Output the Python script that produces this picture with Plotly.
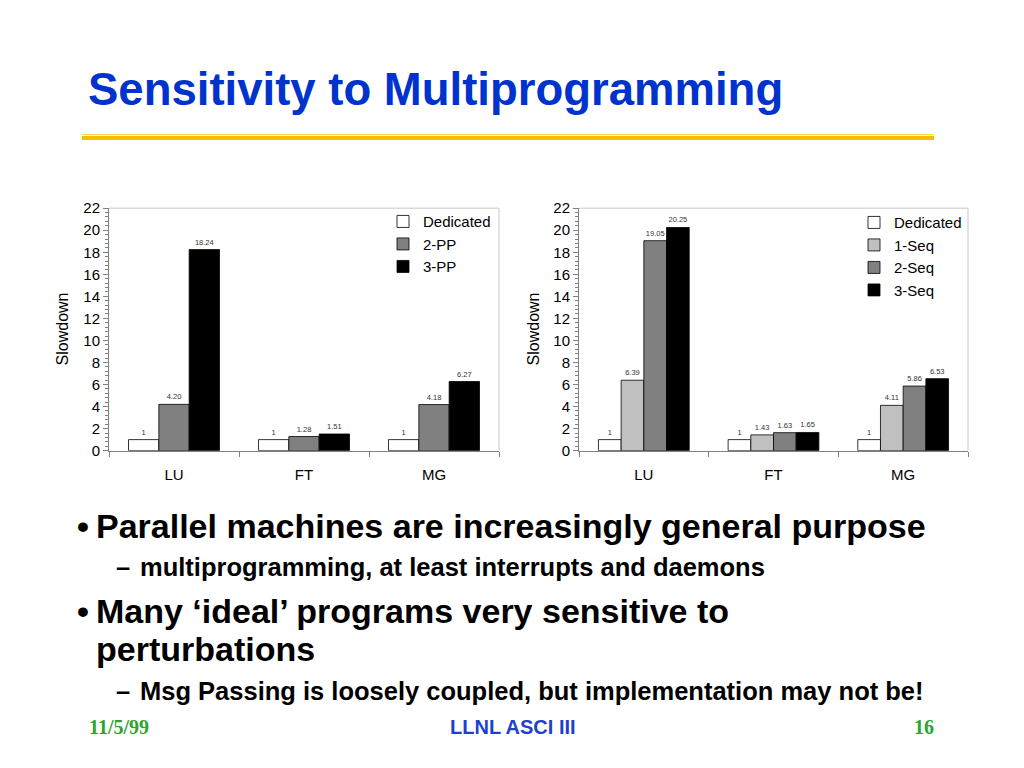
import plotly.graph_objects as go

W, H = 1024, 768

categories = ["LU", "FT", "MG"]

left_series = ["Dedicated", "2-PP", "3-PP"]
left_values = [
    [1, 1, 1],
    [4.20, 1.28, 4.18],
    [18.24, 1.51, 6.27],
]
left_labels = [
    ["1", "1", "1"],
    ["4.20", "1.28", "4.18"],
    ["18.24", "1.51", "6.27"],
]
left_colors = ["#FFFFFF", "#808080", "#000000"]

right_series = ["Dedicated", "1-Seq", "2-Seq", "3-Seq"]
right_values = [
    [1, 1, 1],
    [6.39, 1.43, 4.11],
    [19.05, 1.63, 5.86],
    [20.25, 1.65, 6.53],
]
right_labels = [
    ["1", "1", "1"],
    ["6.39", "1.43", "4.11"],
    ["19.05", "1.63", "5.86"],
    ["20.25", "1.65", "6.53"],
]
right_colors = ["#FFFFFF", "#C0C0C0", "#808080", "#000000"]

y_ticks = list(range(0, 23, 2))
y_range = [0, 22]

title_text = "Sensitivity to Multiprogramming"
bullets = [
    ("•", "Parallel machines are increasingly general purpose", 1),
    ("–", "multiprogramming, at least interrupts and daemons", 2),
    ("•", "Many ‘ideal’ programs very sensitive to", 1),
    ("", "perturbations", 1),
    ("–", "Msg Passing is loosely coupled, but implementation may not be!", 2),
]
footer_left = "11/5/99"
footer_center = "LLNL ASCI III"
footer_right = "16"

SANS = "Liberation Sans, Arial, Helvetica, sans-serif"
SERIF = "Liberation Serif, Times New Roman, serif"


def px(x):
    return x / W


def py(y):
    # small vertical correction measured from the rendered page
    s = (y - 10.2) / 0.976
    return 1 - s / H


fig = go.Figure()

for name, vals, labs, col in zip(left_series, left_values, left_labels, left_colors):
    fig.add_trace(go.Bar(
        x=categories, y=vals, name=name, text=labs,
        textposition="outside", cliponaxis=False,
        textfont=dict(size=7.5, color="#333333", family=SANS),
        marker=dict(color=col, line=dict(color="#000000", width=0.8)),
        xaxis="x", yaxis="y", legend="legend", legendgroup="L" + name,
    ))

for name, vals, labs, col in zip(right_series, right_values, right_labels, right_colors):
    fig.add_trace(go.Bar(
        x=categories, y=vals, name=name, text=labs,
        textposition="outside", cliponaxis=False,
        textfont=dict(size=7.5, color="#333333", family=SANS),
        marker=dict(color=col, line=dict(color="#000000", width=0.8)),
        xaxis="x2", yaxis="y2", legend="legend2", legendgroup="R" + name,
    ))

ydom = [py(451), py(209)]
xaxis_common = dict(
    type="category", showline=True, linecolor="#808080", linewidth=1,
    ticks="outside", tickson="boundaries", ticklen=5, tickcolor="#808080",
    tickfont=dict(family=SANS, size=15, color="#000000"),
    ticklabelstandoff=10, showgrid=False, zeroline=False,
)
yaxis_common = dict(
    range=y_range, tickvals=y_ticks, showline=True, linecolor="#808080",
    linewidth=1, ticks="outside", ticklen=5, tickcolor="#808080",
    tickfont=dict(family=SANS, size=15, color="#000000"),
    showgrid=False, zeroline=False,
    minor=dict(dtick=0.4, ticks="outside", ticklen=3, tickcolor="#808080", showgrid=False),
)

fig.update_layout(
    width=W, height=H, margin=dict(l=0, r=0, t=0, b=0),
    paper_bgcolor="#FFFFFF", plot_bgcolor="#FFFFFF",
    barmode="group", bargap=0.3, bargroupgap=0,
    font=dict(family=SANS, color="#000000"),
    xaxis=dict(domain=[px(109), px(499)], anchor="y", **xaxis_common),
    yaxis=dict(domain=ydom, anchor="x", **yaxis_common),
    xaxis2=dict(domain=[px(579), px(968)], anchor="y2", **xaxis_common),
    yaxis2=dict(domain=ydom, anchor="x2", **yaxis_common),
    legend=dict(x=px(383), y=py(206), xanchor="left", yanchor="top",
                bgcolor="rgba(0,0,0,0)", font=dict(family=SANS, size=15),
                traceorder="grouped", tracegroupgap=0, itemwidth=30),
    legend2=dict(x=px(854), y=py(207), xanchor="left", yanchor="top",
                 bgcolor="rgba(0,0,0,0)", font=dict(family=SANS, size=15),
                 traceorder="grouped", tracegroupgap=0, itemwidth=30),
)

shapes = []
for xr, yr in (("x domain", "y domain"), ("x2 domain", "y2 domain")):
    shapes.append(dict(type="line", xref=xr, yref=yr, x0=0, x1=1, y0=1, y1=1,
                       line=dict(color="#C8C8C8", width=1)))
    shapes.append(dict(type="line", xref=xr, yref=yr, x0=1, x1=1, y0=0, y1=1,
                       line=dict(color="#C8C8C8", width=1)))
# gold rule under the title
shapes.append(dict(type="line", xref="paper", yref="paper", x0=px(82), x1=px(934),
                   y0=py(135.5), y1=py(135.5), line=dict(color="#F7D24A", width=1)))
shapes.append(dict(type="rect", xref="paper", yref="paper", x0=px(82), x1=px(934),
                   y0=py(141), y1=py(137), fillcolor="#F5BF00", line=dict(width=0)))
fig.update_layout(shapes=shapes)

ann = []
ann.append(dict(text="<b>" + title_text + "</b>", x=px(86), y=py(90.5), xref="paper", yref="paper",
                xanchor="left", yanchor="middle", showarrow=False,
                font=dict(family=SANS, size=45.5, color="#0033CC")))

# axis titles
for xp in (62, 533):
    ann.append(dict(text="Slowdown", x=px(xp), y=py(330), xref="paper", yref="paper",
                    textangle=-90, showarrow=False, xanchor="center", yanchor="middle",
                    font=dict(family=SANS, size=16, color="#000000")))

bullet_y = [526, 567, 611, 649, 691]
for (mark, txt, lvl), yy in zip(bullets, bullet_y):
    size = 34 if lvl == 1 else 25.5
    mx = 75 if lvl == 1 else 114
    tx = 94 if lvl == 1 else 138
    if mark:
        ann.append(dict(text="<b>" + mark + "</b>", x=px(mx), y=py(yy), xref="paper", yref="paper",
                        xanchor="left", yanchor="middle", showarrow=False,
                        font=dict(family=SANS, size=size, color="#000000")))
    ann.append(dict(text="<b>" + txt + "</b>", x=px(tx), y=py(yy), xref="paper", yref="paper",
                    xanchor="left", yanchor="middle", showarrow=False,
                    font=dict(family=SANS, size=size, color="#000000")))

fy = 727
ann.append(dict(text="<b>" + footer_left + "</b>", x=px(87), y=py(fy), xref="paper", yref="paper",
                xanchor="left", yanchor="middle", showarrow=False,
                font=dict(family=SERIF, size=20, color="#2BA52B")))
ann.append(dict(text="<b>" + footer_center + "</b>", x=px(513), y=py(fy), xref="paper", yref="paper",
                xanchor="center", yanchor="middle", showarrow=False,
                font=dict(family=SANS, size=20, color="#1F3FD0")))
ann.append(dict(text="<b>" + footer_right + "</b>", x=px(936), y=py(fy), xref="paper", yref="paper",
                xanchor="right", yanchor="middle", showarrow=False,
                font=dict(family=SERIF, size=20, color="#2BA52B")))
fig.update_layout(annotations=ann)

fig.write_html("out.html", config={"displayModeBar": False},
               post_script="document.body.style.margin='0';")
